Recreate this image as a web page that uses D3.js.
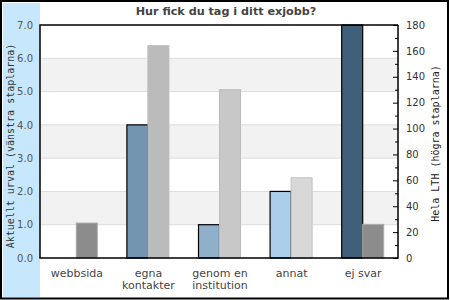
<html>
<head>
<meta charset="utf-8">
<script src="https://cdn.jsdelivr.net/npm/d3@7/dist/d3.min.js"></script>
<style>
  body { margin: 0; background: #fff; }
</style>
</head>
<body>
<svg width="450" height="300" font-family="DejaVu Sans"></svg>
<script>
// data
var categories = ["webbsida", "egna\nkontakter", "genom en\ninstitution", "annat", "ej svar"];
var urval = [0, 4, 1, 2, 7];           // vänstra staplarna
var helaLTH = [27, 164, 130, 62, 26];  // högra staplarna
var leftTicks = [0, 1, 2, 3, 4, 5, 6, 7];
var rightTicks = [0, 20, 40, 60, 80, 100, 120, 140, 160, 180];
var rightMinor = [10, 30, 50, 70, 90, 110, 130, 150, 170];

var urvalColors = ["#7395b2", "#7395b2", "#8fb0cb", "#abcfea", "#3f5f7a"];
var ltlColors = ["#8c8c8c", "#bbbbbb", "#c8c8c8", "#d8d8d8", "#8c8c8c"];
var ltlStroke = ["#aaaaaa", "#bbbbbb", "#bbbbbb", "#c4c4c4", "#aaaaaa"];

var svg = d3.select("svg");

// plot area
var L = 40, R = 398, T = 25, B = 258;

var x = d3.scaleBand().domain(d3.range(categories.length)).range([L, R]);
var yL = d3.scaleLinear().domain([0, 7]).range([B, T]);
var yR = d3.scaleLinear().domain([0, 180]).range([B, T]);
var barW = 21;

// blå remsa till vänster
svg.append("rect").attr("x", 3).attr("y", 3).attr("width", 37).attr("height", 294)
   .attr("fill", "#c7e7fd");

// bakgrundsband
svg.selectAll(".band")
   .data([1, 3, 5]).enter()
   .append("rect").classed("band", 1)
   .attr("x", L).attr("width", R - L)
   .attr("y", function(d){ return yL(d + 1); })
   .attr("height", function(d){ return yL(d) - yL(d + 1); })
   .attr("fill", "#f2f2f2");

// stödlinjer
svg.selectAll(".grid")
   .data(leftTicks.slice(1, -1)).enter()
   .append("line").classed("grid", 1)
   .attr("x1", L).attr("x2", R)
   .attr("y1", function(d){ return yL(d); })
   .attr("y2", function(d){ return yL(d); })
   .attr("stroke", "#dddddd");

// staplar
var cx = function(i){ return x(i) + x.bandwidth() / 2; };

var left = urval.map(function(v, i){ return {v: v, i: i}; })
                .filter(function(d){ return d.v > 0; });

svg.selectAll(".bl")
   .data(left).enter()
   .append("rect").classed("bl", 1)
   .attr("x", function(d){ return cx(d.i) - barW + 0.5; })
   .attr("y", function(d){ return yL(d.v); })
   .attr("width", barW)
   .attr("height", function(d){ return B - yL(d.v); })
   .attr("fill", function(d){ return urvalColors[d.i]; })
   .attr("stroke", "#000").attr("stroke-width", 1.2);

svg.selectAll(".br")
   .data(helaLTH).enter()
   .append("rect").classed("br", 1)
   .attr("x", function(d, i){ return cx(i) + 0.5; })
   .attr("y", function(d){ return yR(d); })
   .attr("width", barW)
   .attr("height", function(d){ return B - yR(d); })
   .attr("fill", function(d, i){ return ltlColors[i]; })
   .attr("stroke", function(d, i){ return ltlStroke[i]; });

// ram runt diagrammet
svg.append("path")
   .attr("d", "M" + R + "," + T + "H" + L + "V" + B + "H" + R + "V" + T)
   .attr("fill", "none").attr("stroke", "#000").attr("stroke-width", 1.5);

// vänster axel
var gl = svg.append("g").attr("transform", "translate(" + L + ",0)")
   .call(d3.axisLeft(yL).tickValues(leftTicks).tickFormat(d3.format(".1f"))
         .tickSize(0).tickPadding(7));
gl.attr("font-family", null).attr("font-size", null);
gl.select(".domain").remove();
gl.selectAll("text").attr("font-size", 10).attr("fill", "#555");

// höger axel
var gr = svg.append("g").attr("transform", "translate(" + R + ",0)")
   .call(d3.axisRight(yR).tickValues(rightTicks).tickSize(-5).tickPadding(8));
gr.attr("font-family", null).attr("font-size", null);
gr.select(".domain").remove();
gr.selectAll("line").attr("stroke", "#000");
gr.selectAll("text").attr("font-size", 10).attr("fill", "#333");

var gm = svg.append("g").attr("transform", "translate(" + R + ",0)")
   .call(d3.axisRight(yR).tickValues(rightMinor).tickSize(-3).tickFormat(""));
gm.select(".domain").remove();
gm.selectAll("line").attr("stroke", "#000");

// kategorinamn
svg.selectAll(".cat")
   .data(categories).enter()
   .append("text").classed("cat", 1)
   .attr("text-anchor", "middle")
   .attr("font-size", 11).attr("fill", "#444")
   .each(function(d, i){
     var lines = d.split("\n");
     d3.select(this).selectAll("tspan")
       .data(lines).enter()
       .append("tspan")
       .attr("x", cx(i) + 1)
       .attr("y", function(s, j){ return 277 + j * 12; })
       .text(function(s){ return s; });
   });

// axeltitlar
svg.append("text")
   .attr("transform", "translate(13.5,146) rotate(-90)")
   .attr("text-anchor", "middle")
   .attr("font-family", "DejaVu Sans Mono").attr("font-size", 10).attr("fill", "#333")
   .text("Aktuellt urval (vänstra staplarna)");

svg.append("text")
   .attr("transform", "translate(439,143.5) rotate(-90)")
   .attr("text-anchor", "middle")
   .attr("font-family", "DejaVu Sans Mono").attr("font-size", 10).attr("fill", "#222")
   .text("Hela LTH (högra staplarna)");

// rubrik
svg.append("text")
   .attr("x", 226).attr("y", 15)
   .attr("text-anchor", "middle")
   .attr("font-size", 11.2).attr("font-weight", "bold").attr("fill", "#444")
   .text("Hur fick du tag i ditt exjobb?");

// yttre ram
svg.append("rect").attr("x", 1).attr("y", 1).attr("width", 447).attr("height", 297.5)
   .attr("fill", "none").attr("stroke", "#000").attr("stroke-width", 2);
</script>
</body>
</html>
